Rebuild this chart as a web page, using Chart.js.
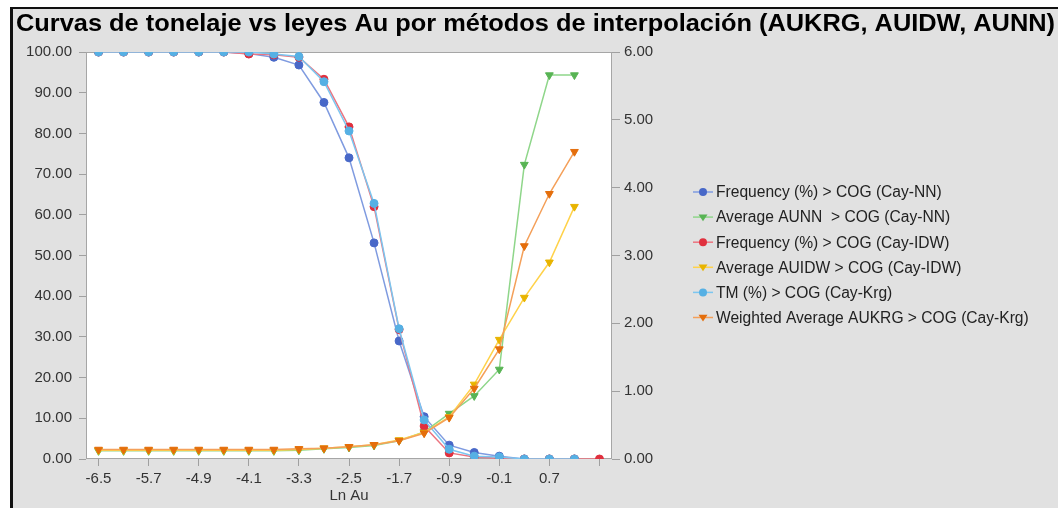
<!DOCTYPE html>
<html>
<head>
<meta charset="utf-8">
<script src="https://cdn.jsdelivr.net/npm/chart.js@4.4.1/dist/chart.umd.min.js"></script>
<style>
  body { margin: 0; background: #fff; }
  #frame { position: absolute; left: 10px; top: 7px; width: 1048px; height: 501px; box-sizing: border-box;
           border-left: 3px solid #111; border-top: 2px solid #111; background: #e1e1e1; }
  #chart { position: absolute; left: 0; top: 0; }
</style>
</head>
<body>
<div id="frame"></div>
<canvas id="chart" width="1058" height="508"></canvas>
<script>
// Ln Au cut-off grades (categories)
const lnAu = ['-6.5', '-6.1', '-5.7', '-5.3', '-4.9', '-4.5', '-4.1', '-3.7', '-3.3', '-2.9', '-2.5',
              '-2.1', '-1.7', '-1.3', '-0.9', '-0.5', '-0.1', '0.3', '0.7', '1.1', '1.5'];
// labels shown under the axis (every other category, last one left blank)
const shownTicks = ['-6.5', '-5.7', '-4.9', '-4.1', '-3.3', '-2.5', '-1.7', '-0.9', '-0.1', '0.7'];

// tonnage curves (%), left axis
const freqNN  = [100, 100, 100, 100, 100, 100, 99.6, 98.7, 96.8, 87.6, 74.0, 53.1, 29.0, 10.4, 3.4, 1.6, 0.7, 0, 0, 0];
const freqIDW = [100, 100, 100, 100, 100, 100, 99.5, 99.3, 98.7, 93.3, 81.6, 62.0, 31.8, 8.1, 1.5, 0.5, 0.2, 0, 0, 0, 0];
const tmKrg   = [100, 100, 100, 100, 100, 100, 100, 99.5, 98.9, 92.7, 80.6, 62.8, 32.0, 9.6, 2.4, 0.7, 0.5, 0, 0, 0];

// average grade curves, right axis
const avgNN  = [0.12, 0.12, 0.12, 0.12, 0.12, 0.12, 0.12, 0.12, 0.13, 0.15, 0.17, 0.20, 0.27, 0.40, 0.67, 0.93, 1.32, 4.34, 5.66, 5.66];
const avgIDW = [0.13, 0.13, 0.13, 0.13, 0.13, 0.13, 0.13, 0.13, 0.14, 0.16, 0.18, 0.21, 0.28, 0.39, 0.62, 1.10, 1.76, 2.38, 2.90, 3.72];
const avgKrg = [0.14, 0.14, 0.14, 0.14, 0.14, 0.14, 0.14, 0.14, 0.15, 0.16, 0.18, 0.21, 0.27, 0.38, 0.61, 1.04, 1.62, 3.14, 3.91, 4.53];

const leftTicks = [0, 10, 20, 30, 40, 50, 60, 70, 80, 90, 100];
const rightTicks = [0, 1, 2, 3, 4, 5, 6];

const titleText = 'Curvas de tonelaje vs leyes Au por métodos de interpolación (AUKRG, AUIDW, AUNN)';
const FONT = '"Liberation Sans", Arial, sans-serif';

function series(label, data, line, mark, tri, axis, order) {
    return {
        label: label,
        data: data,
        yAxisID: axis,
        borderColor: line,
        backgroundColor: mark,
        pointBackgroundColor: mark,
        pointBorderColor: mark,
        pointBorderWidth: 1,
        pointStyle: tri ? 'triangle' : 'circle',
        pointRotation: tri ? 180 : 0,
        pointRadius: tri ? 4.5 : 4,
        borderWidth: 1.5,
        tension: 0,
        order: order
    };
}

const datasets = [
    series('Frequency (%) > COG (Cay-NN)', freqNN, '#7f9be0', '#4868c8', false, 'y', 6),
    series('Average AUNN  > COG (Cay-NN)', avgNN, '#8fd68a', '#58b454', true, 'y1', 5),
    series('Frequency (%) > COG (Cay-IDW)', freqIDW, '#ec7480', '#e0303e', false, 'y', 4),
    series('Average AUIDW > COG (Cay-IDW)', avgIDW, '#ffd24a', '#e8b400', true, 'y1', 3),
    series('TM (%) > COG (Cay-Krg)', tmKrg, '#7cc6f0', '#56b0e4', false, 'y', 2),
    series('Weighted Average AUKRG > COG (Cay-Krg)', avgKrg, '#f4a05a', '#e46e0c', true, 'y1', 1)
];

function drawMarker(ctx, ds, x, y) {
    ctx.fillStyle = ds.pointBackgroundColor;
    ctx.beginPath();
    if (ds.pointStyle === 'triangle') {
        const r = ds.pointRadius;
        ctx.moveTo(x - r, y - r * 0.6);
        ctx.lineTo(x + r, y - r * 0.6);
        ctx.lineTo(x, y + r * 0.9);
        ctx.closePath();
    } else {
        ctx.arc(x, y, ds.pointRadius, 0, Math.PI * 2);
    }
    ctx.fill();
}

// white plot area, border, title and a line+marker legend
const decorations = {
    id: 'decorations',
    beforeDraw(chart) {
        const a = chart.chartArea;
        const ctx = chart.ctx;
        ctx.save();
        ctx.fillStyle = '#fff';
        ctx.fillRect(a.left, a.top, a.right - a.left, a.bottom - a.top);
        ctx.restore();
    },
    beforeDatasetsDraw(chart) {
        const a = chart.chartArea;
        const ctx = chart.ctx;
        ctx.save();
        ctx.strokeStyle = '#a6a6a6';
        ctx.lineWidth = 1;
        ctx.strokeRect(a.left + 0.5, a.top + 0.5, a.right - a.left - 1, a.bottom - a.top - 1);
        ctx.restore();
    },
    afterDraw(chart) {
        const ctx = chart.ctx;
        ctx.save();
        // title
        ctx.font = 'bold 24px ' + FONT;
        ctx.fillStyle = '#000';
        ctx.textBaseline = 'alphabetic';
        const w = ctx.measureText(titleText).width;
        ctx.translate(16, 31);
        ctx.scale(1039 / w, 1);
        ctx.fillText(titleText, 0, 0);
        ctx.restore();

        // legend
        ctx.save();
        ctx.font = '15.6px ' + FONT;
        ctx.textBaseline = 'middle';
        datasets.forEach((ds, i) => {
            const y = 192 + i * 25.1;
            ctx.strokeStyle = ds.borderColor;
            ctx.lineWidth = 1.5;
            ctx.beginPath();
            ctx.moveTo(693, y);
            ctx.lineTo(713, y);
            ctx.stroke();
            drawMarker(ctx, ds, 703, y);
            ctx.fillStyle = '#222';
            ctx.fillText(ds.label, 716, y + 1);
        });
        ctx.restore();
    }
};

const tickGray = '#a0a0a0';
const labelColor = '#333';

new Chart(document.getElementById('chart'), {
    type: 'line',
    data: { labels: lnAu, datasets: datasets },
    options: {
        responsive: false,
        animation: false,
        layout: { padding: { left: 12, top: 52, right: 0, bottom: 0 } },
        plugins: { legend: { display: false }, tooltip: { enabled: false }, title: { display: false } },
        scales: {
            x: {
                type: 'category',
                offset: true,
                border: { display: false },
                grid: {
                    drawOnChartArea: false,
                    tickLength: 7,
                    color: c => (c.index % 2 === 0 ? tickGray : 'transparent')
                },
                ticks: {
                    autoSkip: false,
                    maxRotation: 0,
                    padding: 4,
                    color: labelColor,
                    font: { size: 15, family: FONT },
                    callback: function(v, i) {
                        const l = this.getLabelForValue(v);
                        return shownTicks.includes(l) ? l : '';
                    }
                },
                title: { display: true, text: 'Ln Au', color: labelColor, font: { size: 15, family: FONT },
                         padding: { top: 0, bottom: 3 } },
                afterFit: s => { s.height = 49; }
            },
            y: {
                position: 'left',
                min: 0, max: 100,
                border: { display: false },
                grid: { drawOnChartArea: false, tickLength: 7, color: tickGray },
                afterBuildTicks: s => { s.ticks = leftTicks.map(v => ({ value: v })); },
                ticks: { padding: 7, color: labelColor, font: { size: 15, family: FONT },
                         callback: v => v.toFixed(2) },
                afterFit: s => { s.width = 74; }
            },
            y1: {
                position: 'right',
                min: 0, max: 6,
                border: { display: false },
                grid: { drawOnChartArea: false, tickLength: 8, color: tickGray },
                afterBuildTicks: s => { s.ticks = rightTicks.map(v => ({ value: v })); },
                ticks: { padding: 4, color: labelColor, font: { size: 15, family: FONT },
                         callback: v => v.toFixed(2) },
                afterFit: s => { s.width = 446; }
            }
        }
    },
    plugins: [decorations]
});
</script>
</body>
</html>
